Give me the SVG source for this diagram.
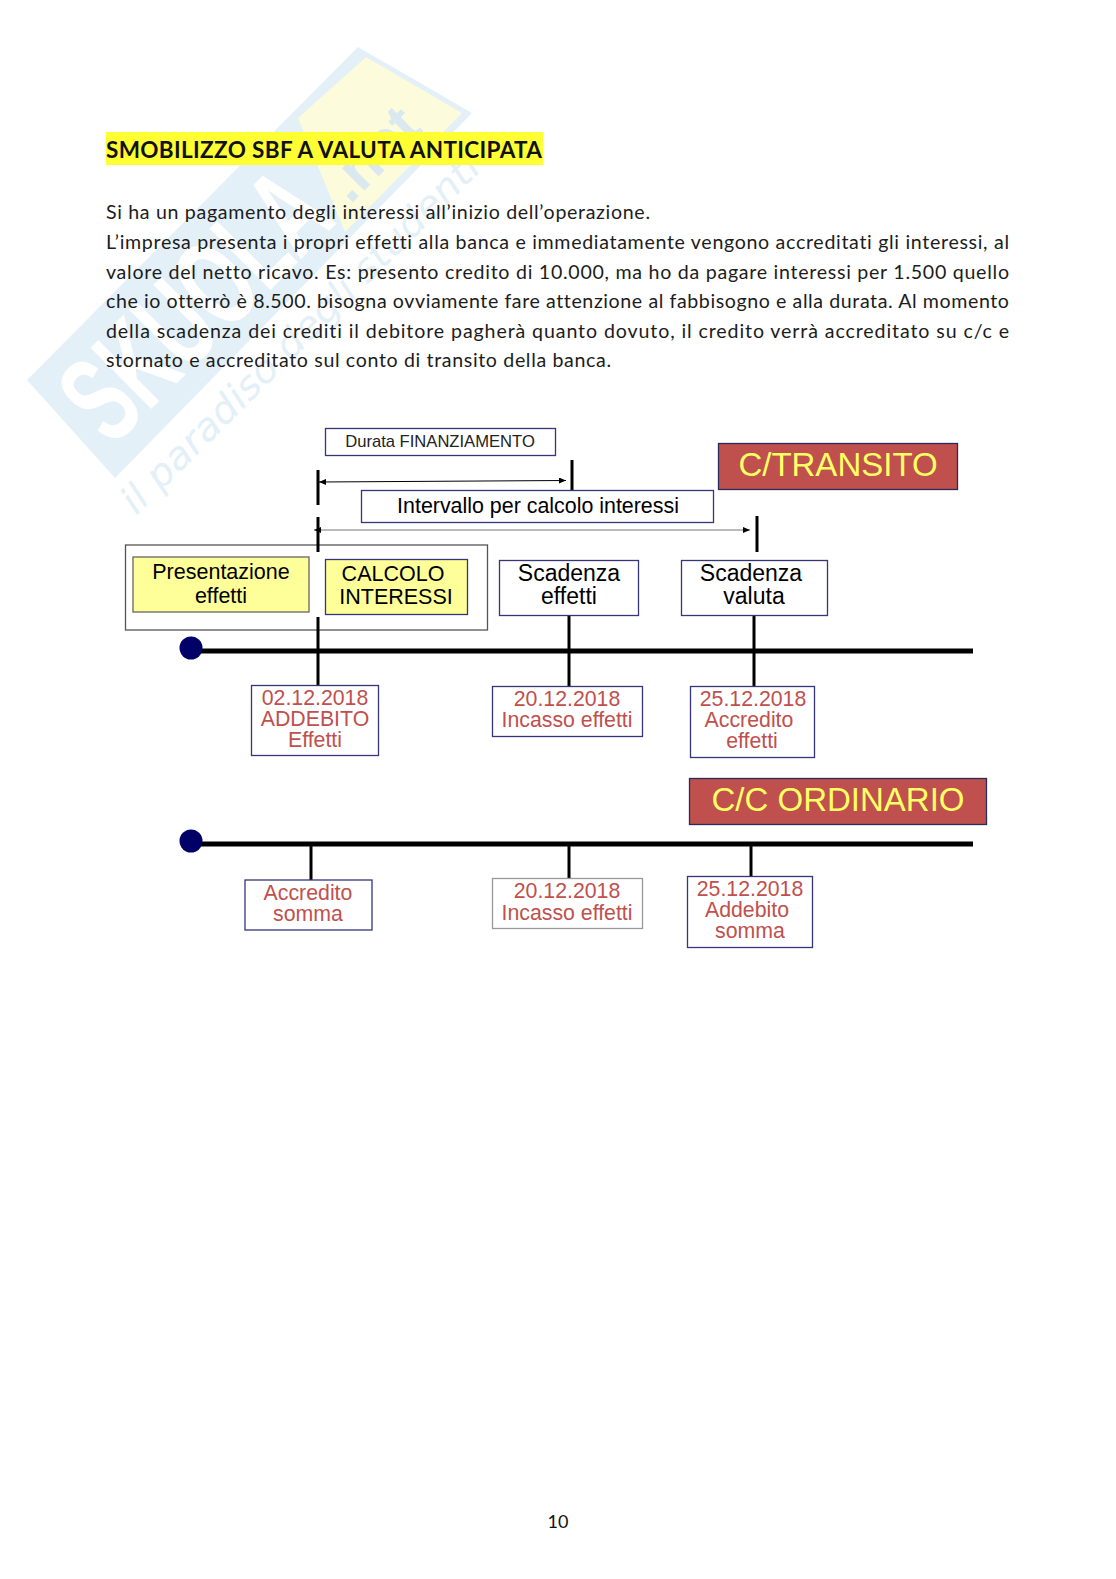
<svg xmlns="http://www.w3.org/2000/svg" width="1116" height="1579" viewBox="0 0 1116 1579">
<defs>
<style>
.body{font-family:"Lato","Liberation Sans",sans-serif;font-size:19.6px;fill:#1c1c1c;font-variant-ligatures:none}
.a{font-family:"Liberation Sans",Arial,sans-serif;text-anchor:middle}
.box{fill:#fff;stroke:#35357a;stroke-width:1.3}
.yb{fill:#ffff99;stroke:#35357a;stroke-width:1.3}
.red{fill:#c0504d;stroke:#2a2a5a;stroke-width:1.3}
.k{font-size:21.5px;fill:#000}
.s{font-size:23px;fill:#000}
.r{font-size:21.3px;fill:#c0504d}
.big{font-size:33px;fill:#ffff66}
.t{stroke:#000;fill:none}
.dot{fill:#000066}
.wm{font-family:"Liberation Sans",Arial,sans-serif;font-weight:700}
</style>
<marker id="ah" markerWidth="8" markerHeight="8" refX="7" refY="3" orient="auto" markerUnits="userSpaceOnUse"><path d="M0 0L7 3L0 6Z" fill="#000"/></marker>
<marker id="at" markerWidth="8" markerHeight="8" refX="0" refY="3" orient="auto" markerUnits="userSpaceOnUse"><path d="M7 0L0 3L7 6Z" fill="#000"/></marker>
</defs>
<rect width="1116" height="1579" fill="#fff"/>
<g id="watermark">
<path d="M358 47L472 113L115 478L27 380Z" fill="#e3f0f7"/>
<path d="M366 57L462 113L345 232L298 118Z" fill="#fcfbdc"/>
<text class="wm" transform="translate(112 448) rotate(-45)" font-size="125" fill="#fff" textLength="320" lengthAdjust="spacingAndGlyphs">SKUOLA</text>
<text class="wm" transform="translate(350 205) rotate(-45)" font-size="60" fill="#d9e9ef" textLength="105" lengthAdjust="spacingAndGlyphs">.net</text>
<text transform="translate(136 516) rotate(-45)" font-family="'DejaVu Sans',sans-serif" font-style="italic" font-size="38" fill="#e3f0f7" textLength="490" lengthAdjust="spacingAndGlyphs">il paradiso degli studenti</text>
</g>
<g id="heading">
<rect x="106" y="132" width="437" height="33" fill="#ffff33"/>
<text x="106" y="158" font-family="Lato,'Liberation Sans',sans-serif" font-size="22.500" font-weight="700" fill="#111" textLength="436" lengthAdjust="spacing">SMOBILIZZO SBF A VALUTA ANTICIPATA</text>
</g>
<g id="paragraph">
<text class="body" x="106" y="219" textLength="544">Si ha un pagamento degli interessi all’inizio dell’operazione.</text>
<text class="body" x="106" y="249" textLength="903">L’impresa presenta i propri effetti alla banca e immediatamente vengono accreditati gli interessi, al</text>
<text class="body" x="106" y="279" textLength="903">valore del netto ricavo. Es: presento credito di 10.000, ma ho da pagare interessi per 1.500 quello</text>
<text class="body" x="106" y="308" textLength="903">che io otterrò è 8.500. bisogna ovviamente fare attenzione al fabbisogno e alla durata. Al momento</text>
<text class="body" x="106" y="338" textLength="903">della scadenza dei crediti il debitore pagherà quanto dovuto, il credito verrà accreditato su c/c e</text>
<text class="body" x="106" y="367" textLength="505">stornato e accreditato sul conto di transito della banca.</text>
</g>
<g id="group-box"><rect x="125.500" y="545" width="362" height="85" fill="#fff" stroke="#555" stroke-width="1.300"/></g>
<g id="connectors">
<path class="t" stroke-width="3" d="M318 470V505M318 517V552M318 617V686M572 460V495M757 516V552M569 616V686M754 616V686"/>
<path class="t" stroke-width="5" d="M190 651H973M190 844H973"/>
<path class="t" stroke-width="3" d="M311 844V880M569 844V878M751 844V876"/>
<path class="t" stroke-width="1" marker-start="url(#at)" marker-end="url(#ah)" d="M319 482L566 480.500"/>
<path d="M314 530H750" stroke="#777" stroke-width="1" fill="none" marker-start="url(#at)" marker-end="url(#ah)"/>
</g>
<g id="durata"><rect class="box" x="325.500" y="428.500" width="230" height="27"/><text class="a" x="440" y="447" font-size="16.600" fill="#222">Durata FINANZIAMENTO</text></g>
<g id="intervallo"><rect class="box" x="361.500" y="490.500" width="352" height="32"/><text class="a" x="538" y="513" font-size="21.400" fill="#000">Intervallo per calcolo interessi</text></g>
<g id="transito"><rect class="red" x="718.500" y="443.500" width="239" height="46"/><text class="a big" x="838" y="476">C/TRANSITO</text></g>
<g id="presentazione"><rect class="yb" x="133" y="557" width="176" height="55" style="stroke:#666"/><text class="a k" x="221" y="579">Presentazione</text><text class="a k" x="221" y="603">effetti</text></g>
<g id="calcolo"><rect class="yb" x="325.500" y="559.500" width="142" height="55"/><text class="a k" x="393" y="581">CALCOLO</text><text class="a k" x="396" y="604">INTERESSI</text></g>
<g id="scad-effetti"><rect class="box" x="499.500" y="560.500" width="139" height="55"/><text class="a s" x="569" y="581">Scadenza</text><text class="a s" x="569" y="604">effetti</text></g>
<g id="scad-valuta"><rect class="box" x="681.500" y="560.500" width="146" height="55"/><text class="a s" x="751" y="581">Scadenza</text><text class="a s" x="754" y="604">valuta</text></g>
<g id="d1"><rect class="box" x="251.500" y="685.500" width="127" height="70"/><text class="a r" x="315" y="705">02.12.2018</text><text class="a r" x="315" y="726">ADDEBITO</text><text class="a r" x="315" y="747">Effetti</text></g>
<g id="d2"><rect class="box" x="492.500" y="686.500" width="150" height="50"/><text class="a r" x="567" y="706">20.12.2018</text><text class="a r" x="567" y="727">Incasso effetti</text></g>
<g id="d3"><rect class="box" x="690.500" y="686.500" width="124" height="71"/><text class="a r" x="753" y="706">25.12.2018</text><text class="a r" x="749" y="727">Accredito</text><text class="a r" x="752" y="748">effetti</text></g>
<g id="ordinario"><rect class="red" x="689.500" y="778.500" width="297" height="46"/><text class="a big" x="838" y="811">C/C ORDINARIO</text></g>
<g id="e1"><rect class="box" x="245" y="880" width="127" height="50"/><text class="a r" x="308" y="900">Accredito</text><text class="a r" x="308" y="921">somma</text></g>
<g id="e2"><rect x="492.500" y="878.500" width="150" height="50" fill="#fff" stroke="#999" stroke-width="1.300"/><text class="a r" x="567" y="898">20.12.2018</text><text class="a r" x="567" y="920">Incasso effetti</text></g>
<g id="e3"><rect class="box" x="687.500" y="876.500" width="125" height="71"/><text class="a r" x="750" y="896">25.12.2018</text><text class="a r" x="747" y="917">Addebito</text><text class="a r" x="750" y="938">somma</text></g>
<g id="start1"><circle class="dot" cx="191" cy="648" r="11.500"/></g>
<g id="start2"><circle class="dot" cx="191" cy="841" r="11.500"/></g>
<g id="page"><text x="558" y="1528" text-anchor="middle" font-family="Lato,'Liberation Sans',sans-serif" font-size="18" fill="#111">10</text></g>
</svg>
